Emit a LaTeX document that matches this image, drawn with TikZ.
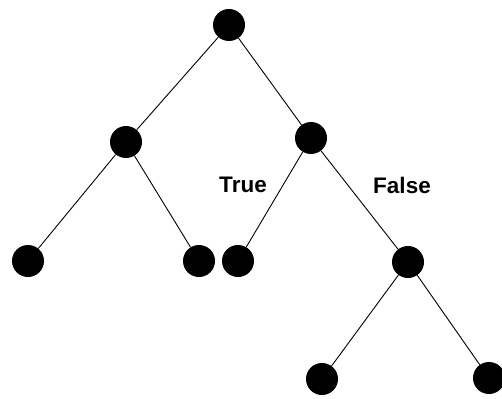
\documentclass[tikz,border=0pt]{standalone}
\usepackage{fontspec}
\setmainfont{Liberation Sans}
\begin{document}
\begin{tikzpicture}[x=1pt,y=-1pt,
  dot/.style={circle,fill=black,inner sep=0pt,minimum size=32pt},
  edge/.style={draw=black,line width=0.9pt},
  lbl/.style={font=\bfseries\fontsize{22.5}{26}\selectfont,inner sep=0pt}]
\useasboundingbox[fill=white] (0,0) rectangle (502,398);
\node[dot] (r) at (229,25) {};
\node[dot] (a) at (126,142) {};
\node[dot] (b) at (311,138) {};
\node[dot] (a1) at (28,261) {};
\node[dot] (a2) at (199,261) {};
\node[dot] (b1) at (238,261) {};
\node[dot] (b2) at (408,262) {};
\node[dot] (c1) at (322,379) {};
\node[dot] (c2) at (489,378) {};
\draw[edge] (r) -- (a);
\draw[edge] (r) -- (b);
\draw[edge] (a) -- (a1);
\draw[edge] (a) -- (a2);
\draw[edge] (b) -- (b1);
\draw[edge] (b) -- (b2);
\draw[edge] (b2) -- (c1);
\draw[edge] (b2) -- (c2);
\node[lbl] (t) at (243,185) {True};
\node[lbl] (f) at (402,185) {False};
\end{tikzpicture}
\end{document}
